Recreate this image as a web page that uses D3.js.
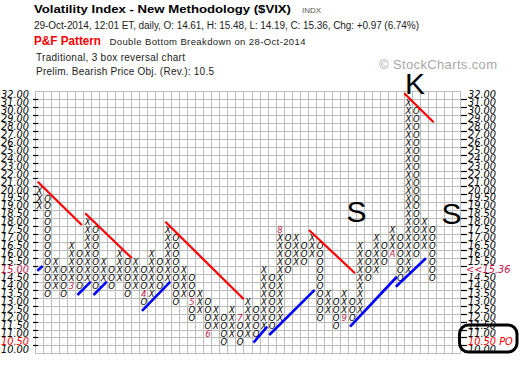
<!DOCTYPE html>
<html>
<head>
<meta charset="utf-8">
<script src="https://cdn.jsdelivr.net/npm/d3@7"></script>
<style>
  body { margin: 0; background: #fff; }
  svg { display: block; }
</style>
</head>
<body>
<div id="chart"></div>
<script>
let width = 520, height = 378,
    grid = ({ left: 35, right: 460, top: 91, bottom: 353.4 }),
    gridCols = 53;

// price levels (one box each), top to bottom
const levels = ["32.00","31.00","30.00","29.00","28.00","27.00","26.00","25.00","24.00","23.00","22.00","21.00","20.00",
  "19.50","19.00","18.50","18.00","17.50","17.00","16.50","16.00","15.50","15.00","14.50","14.00","13.50","13.00",
  "12.50","12.00","11.50","11.00","10.50","10.00"];

// P&F columns
const colType = ["X","O","X","O","X","O","X","O","X","O","X","O","X","O","X","O","X","O","X","O",
  "X","O","X","O","X","O","X","O","X","O","X","O","X","O","X","O","X","O","X","O",
  "X","O","X","O","X","O","X","O","X","O"];
const colLow = [19.0,13.5,14.0,13.5,14.0,14.0,14.5,14.0,14.5,14.0, 14.5,13.5,14.0,13.0,13.5,14.0,14.5,13.0,13.5,12.0,
  12.5,11.0,11.5,10.5,11.0,10.5,11.0,11.0,11.5,11.5, 12.0,15.0,15.5,15.5,16.0,12.0,12.5,11.5,12.0,12.0,
  12.5,14.5,15.0,15.5,16.0,14.5,15.0,16.0,16.5,14.5];
const colHigh = [20.0,19.5,15.5,15.0,16.5,16.0,18.0,17.5,15.5,15.0, 16.0,15.5,15.5,15.0,16.0,15.5,17.5,17.0,15.0,14.5,
  13.5,13.0,12.5,12.0,12.5,12.0,13.0,12.5,15.0,14.5, 17.5,17.0,17.0,16.5,17.0,16.5,13.5,13.0,13.5,13.0,
  16.5,16.0,17.0,16.5,17.5,17.0,31.0,30.0,18.0,17.5];

// month markers
const markCol = [4, 13, 19, 21, 25, 30, 38, 44];
const markPrice = [14.0, 13.5, 13.0, 11.0, 12.0, 17.5, 12.0, 16.0];
const markText = ["3","4","5","6","7","8","9","A"];

// trend lines [column, price]
const redLines = [
  [[0.34, 21.09], [5.84, 17.82]],
  [[6.25, 18.56], [12.09, 15.73]],
  [[16.25, 18.03], [26.04, 13.15]],
  [[34.16, 17.51], [39.91, 14.79]],
  [[46.04, 32.21], [49.71, 28.56]]
];
const blueLines = [
  [[0.29, 14.95], [0.96, 15.25]],
  [[5.29, 13.42], [6.96, 14.26]],
  [[7.29, 13.42], [8.96, 14.26]],
  [[13.34, 12.42], [16.88, 14.26]],
  [[27.25, 10.43], [28.96, 11.43]],
  [[29.21, 10.91], [34.88, 13.74]],
  [[39.29, 11.43], [45.13, 14.57]],
  [[45.0, 13.94], [48.75, 15.73]]
];

const svg = d3.select("#chart")
  .append("svg")
  .attr("width", width)
  .attr("height", height)
  .attr("viewBox", [0, 0, width, height]);

let x = d3.scaleLinear().domain([0, gridCols]).range([grid.left, grid.right]);
let yBand = d3.scaleBand().domain(levels).range([grid.top, grid.bottom]);
let bw = yBand.bandwidth();
let y = d3.scaleLinear() // polylinear: 1.00 boxes above 20, 0.50 below
  .domain([32, 20, 10])
  .range([yBand("32.00") + bw / 2, yBand("20.00") + bw / 2, yBand("10.00") + bw / 2]);

// grid
const gridG = svg.append("g").attr("stroke", "#bcbcbc").attr("stroke-width", 1);
gridG.selectAll(".v").data(d3.range(gridCols + 1)).join("line")
  .attr("x1", d => Math.round(x(d)) + 0.5).attr("x2", d => Math.round(x(d)) + 0.5)
  .attr("y1", grid.top).attr("y2", grid.bottom);
gridG.selectAll(".h").data(d3.range(levels.length + 1)).join("line")
  .attr("x1", grid.left).attr("x2", grid.right)
  .attr("y1", d => Math.round(grid.top + d * bw) + 0.5).attr("y2", d => Math.round(grid.top + d * bw) + 0.5);

// tick dashes on both sides
const dashG = svg.append("g").attr("stroke", "#000").attr("stroke-width", 1.2);
dashG.selectAll(".l").data(levels.slice(0, -1)).join("line")
  .attr("x1", 33).attr("x2", 38)
  .attr("y1", d => Math.round(yBand(d) + bw) + 0.5).attr("y2", d => Math.round(yBand(d) + bw) + 0.5);
dashG.selectAll(".r").data(levels.slice(0, -1)).join("line")
  .attr("x1", 461).attr("x2", 467)
  .attr("y1", d => Math.round(yBand(d) + bw) + 0.5).attr("y2", d => Math.round(yBand(d) + bw) + 0.5);

// price labels
const labelColor = d => d === "15.00" ? "#c8174a" : d === "10.50" ? "#ff0000" : "#000";
svg.append("g")
  .attr("transform", `translate(${grid.left},0)`)
  .call(d3.axisLeft(yBand).tickSize(0).tickPadding(6))
  .call(g => g.select(".domain").remove())
  .call(g => g.selectAll("text")
    .attr("font-family", "DejaVu Sans").attr("font-style", "italic").attr("font-size", 9.8)
    .attr("fill", labelColor));

svg.append("g")
  .attr("transform", `translate(${grid.right},0)`)
  .call(d3.axisRight(yBand).tickSize(0).tickPadding(8)
    .tickFormat(d => d === "15.00" ? "<<15.36" : d === "10.50" ? "10.50 PO" : d))
  .call(g => g.select(".domain").remove())
  .call(g => g.selectAll("text")
    .attr("font-family", "DejaVu Sans").attr("font-style", "italic").attr("font-size", 9.8)
    .attr("dx", d => d === "15.00" ? -2 : 0)
    .attr("fill", labelColor));

// boxes
const levelNums = levels.map(Number);
let boxes = [];
colType.forEach((t, i) => {
  levelNums.filter(p => p >= colLow[i] && p <= colHigh[i]).forEach(p => {
    let m = markCol.findIndex((c, j) => c === i && markPrice[j] === p);
    boxes.push({ col: i, price: p, text: m >= 0 ? markText[m] : t, mark: m >= 0 });
  });
});

svg.append("g")
  .attr("font-family", "DejaVu Sans")
  .attr("font-style", "italic")
  .attr("font-size", 8.5)
  .attr("text-anchor", "middle")
  .selectAll("text")
  .data(boxes)
  .join("text")
  .attr("x", d => x(d.col) + (x(1) - x(0)) / 2 + 0.5)
  .attr("y", d => y(d.price) + 3.2)
  .attr("fill", d => d.mark ? "#c8174a" : "#000")
  .text(d => d.text);

// trend lines
let lineGen = d3.line().x(d => x(d[0])).y(d => y(d[1]));
svg.append("g").selectAll("path").data(redLines).join("path")
  .attr("d", lineGen).attr("stroke", "#ff0000").attr("stroke-width", 2.2).attr("fill", "none");
svg.append("g").selectAll("path").data(blueLines).join("path")
  .attr("d", lineGen).attr("stroke", "#0000ff").attr("stroke-width", 2.6).attr("fill", "none");

// annotations
const big = svg.append("g").attr("font-family", "Liberation Sans").attr("font-size", 30).attr("fill", "#000");
big.append("text").attr("x", 405).attr("y", 93.5).text("K");
big.append("text").attr("x", 346.5).attr("y", 222).text("S");
big.append("text").attr("x", 441.5).attr("y", 223.5).text("S");

svg.append("rect")
  .attr("x", 459.5).attr("y", 325).attr("width", 57.5).attr("height", 27)
  .attr("rx", 9).attr("fill", "none").attr("stroke", "#000").attr("stroke-width", 3);

// header
const head = svg.append("g").attr("font-family", "Liberation Sans");
head.append("text").attr("x", 34).attr("y", 13).attr("font-size", 11.5).attr("font-weight", "bold")
  .attr("textLength", 257).attr("lengthAdjust", "spacingAndGlyphs")
  .text("Volatility Index - New Methodology ($VIX)");
head.append("text").attr("x", 302).attr("y", 13).attr("font-size", 8).attr("fill", "#555").text("INDX");
head.append("text").attr("x", 34).attr("y", 29).attr("font-size", 10).attr("fill", "#222")
  .attr("textLength", 385).attr("lengthAdjust", "spacing")
  .text("29-Oct-2014, 12:01 ET, daily, O: 14.61, H: 15.48, L: 14.19, C: 15.36, Chg: +0.97 (6.74%)");
head.append("text").attr("x", 34).attr("y", 44.5).attr("font-size", 12.5).attr("font-weight", "bold").attr("fill", "#ff0000")
  .attr("textLength", 67).attr("lengthAdjust", "spacingAndGlyphs")
  .text("P&F Pattern");
head.append("text").attr("x", 109.5).attr("y", 44.5).attr("font-size", 9.5).attr("fill", "#222")
  .attr("textLength", 196).attr("lengthAdjust", "spacing")
  .text("Double Bottom Breakdown on 28-Oct-2014");
head.append("text").attr("x", 36).attr("y", 60.5).attr("font-size", 10).attr("fill", "#222")
  .attr("textLength", 149).attr("lengthAdjust", "spacing")
  .text("Traditional, 3 box reversal chart");
head.append("text").attr("x", 36).attr("y", 75).attr("font-size", 10).attr("fill", "#222")
  .attr("textLength", 178).attr("lengthAdjust", "spacing")
  .text("Prelim. Bearish Price Obj. (Rev.): 10.5");
head.append("text").attr("x", 379).attr("y", 69).attr("font-size", 13).attr("fill", "#a8a8a8")
  .attr("textLength", 118).attr("lengthAdjust", "spacing")
  .text("© StockCharts.com");
</script>
</body>
</html>
